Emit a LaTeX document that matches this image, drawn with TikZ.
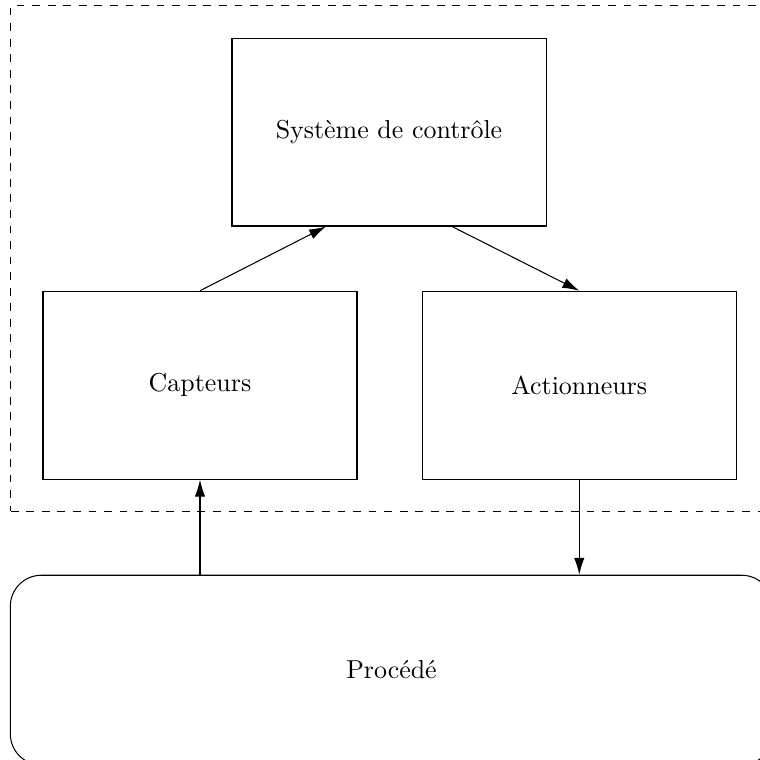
\documentclass[tikz,border=0pt]{standalone}
\usepackage{tikz}
\usetikzlibrary{calc,positioning,arrows.meta,fit}

\tikzset{
  bloc/.style={draw, minimum width=4.255cm, minimum height=2.547cm},
  procede/.style={draw, rounded corners=0.42cm, minimum width=10.33cm, minimum height=2.57cm}
}

\begin{document}
\begin{tikzpicture}[node distance=0.87cm,auto,>={Latex[length=6.5pt,width=4pt]}]
  \node[bloc] (sys) {Système de contrôle};
  \useasboundingbox ($(sys.center)+(-5.271,1.789)$) rectangle +(10.285,-10.298);

  \node[bloc, below=0.87cm of sys, xshift=-2.561cm] (capt) {Capteurs};
  \node[bloc, right=0.87cm of capt] (act) {Actionneurs};

  \node[procede, anchor=north] (proc) at ($(capt.south -| sys.south)+(0.034,-1.287)$) {Procédé};

  %%%%

  \node[draw, dashed, fit=(sys)(capt)(act), inner sep=0.43cm] (ctrl) {};

  \draw[->] (capt.north) -- ($(sys.south west)!0.3!(sys.south east)$);
  \draw[->] ($(sys.south west)!0.7!(sys.south east)$) -- (act.north);

  \draw[->] (capt.south |- proc.north) -- (capt.south);
  \draw[->] (act.south) -- (act.south |- proc.north);

\end{tikzpicture}
\end{document}
